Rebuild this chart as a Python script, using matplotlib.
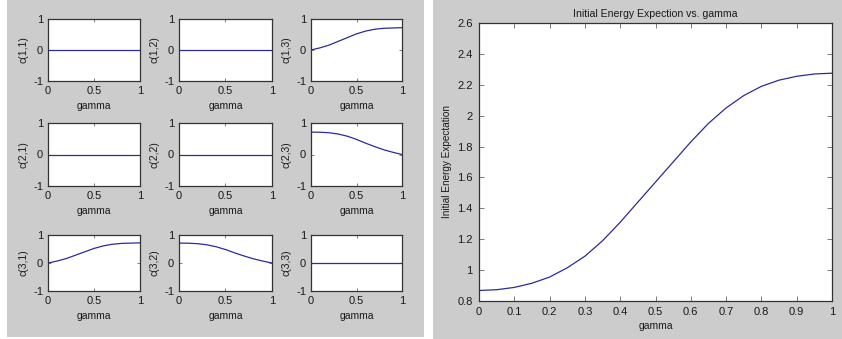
import matplotlib
matplotlib.use("Agg")
import matplotlib.pyplot as plt
from matplotlib.patches import Rectangle

plt.rcParams['font.family'] = ['Liberation Sans', 'DejaVu Sans']
plt.rcParams['font.size'] = 8
plt.rcParams['axes.unicode_minus'] = False

# coefficients vs gamma
gamma = [0.0, 0.1, 0.2, 0.3, 0.4, 0.5, 0.6, 0.7, 0.8, 0.9, 1.0]
c_zero = [0.0] * 11
c_rise = [0.0, 0.07, 0.16, 0.28, 0.40, 0.52, 0.61, 0.67, 0.70, 0.71, 0.72]
c_fall = [0.71, 0.707, 0.69, 0.65, 0.58, 0.48, 0.36, 0.25, 0.15, 0.07, 0.0]

coef = {(1, 1): c_zero, (1, 2): c_zero, (1, 3): c_rise,
        (2, 1): c_zero, (2, 2): c_zero, (2, 3): c_fall,
        (3, 1): c_rise, (3, 2): c_fall, (3, 3): c_zero}

# initial energy expectation vs gamma
gamma_e = [0.0, 0.05, 0.1, 0.15, 0.2, 0.25, 0.3, 0.35, 0.4, 0.45, 0.5,
           0.55, 0.6, 0.65, 0.7, 0.75, 0.8, 0.85, 0.9, 0.95, 1.0]
energy = [0.868, 0.873, 0.888, 0.915, 0.955, 1.015, 1.09, 1.19, 1.31, 1.44, 1.57,
          1.70, 1.83, 1.95, 2.05, 2.13, 2.19, 2.23, 2.255, 2.27, 2.275]

W, H = 842, 339
GREY = '#cccccc'
LINE = '#2b2b9e'
TXT = '#1a1a1a'

fig = plt.figure(figsize=(W / 100, H / 100), dpi=100, facecolor='white')

# the two grey "figure windows"
fig.patches.append(Rectangle((7 / W, 2 / H), (424 - 7) / W, (339 - 2) / H,
                             transform=fig.transFigure, facecolor=GREY, edgecolor='none', zorder=-10))
fig.patches.append(Rectangle((433 / W, 0), (W - 433) / W, 1,
                             transform=fig.transFigure, facecolor=GREY, edgecolor='none', zorder=-10))


def px_axes(x0, y0, x1, y1):
    return fig.add_axes([x0 / W, 1 - y1 / H, (x1 - x0) / W, (y1 - y0) / H])


def style(ax, ticklen, pad):
    ax.set_facecolor('white')
    for s in ax.spines.values():
        s.set_color('#333333')
        s.set_linewidth(0.9)
    ax.tick_params(direction='in', length=ticklen, width=0.6, top=True, right=True,
                   labelsize=8, pad=pad, color='#666666', labelcolor=TXT)


cols = [(48, 140), (179, 272), (311, 402)]
rows = [(19, 81), (123, 186), (235, 291)]

for i, (y0, y1) in enumerate(rows):
    for j, (x0, x1) in enumerate(cols):
        ax = px_axes(x0, y0, x1, y1)
        ax.plot(gamma, coef[(i + 1, j + 1)], color=LINE, lw=0.9)
        ax.set_xlim(0, 1)
        ax.set_ylim(-1, 1)
        ax.set_xticks([0, 0.5, 1])
        ax.set_xticklabels(['0', '0.5', '1'])
        ax.set_yticks([-1, 0, 1])
        ax.set_yticklabels(['-1', '0', '1'])
        style(ax, 2.5, 3.5)
        ax.set_xlabel('gamma', color=TXT, fontsize=7.5, labelpad=4)
        ax.set_ylabel('c(%d,%d)' % (i + 1, j + 1), color=TXT, fontsize=7.5, labelpad=3)

ax = px_axes(479, 23, 832, 301)
ax.plot(gamma_e, energy, color=LINE, lw=0.9)
ax.set_xlim(0, 1)
ax.set_ylim(0.8, 2.6)
xt = [0, 0.1, 0.2, 0.3, 0.4, 0.5, 0.6, 0.7, 0.8, 0.9, 1]
ax.set_xticks(xt)
ax.set_xticklabels(['0', '0.1', '0.2', '0.3', '0.4', '0.5', '0.6', '0.7', '0.8', '0.9', '1'])
yt = [0.8, 1.0, 1.2, 1.4, 1.6, 1.8, 2.0, 2.2, 2.4, 2.6]
ax.set_yticks(yt)
ax.set_yticklabels(['0.8', '1', '1.2', '1.4', '1.6', '1.8', '2', '2.2', '2.4', '2.6'])
style(ax, 3.5, 4.5)
ax.set_xlabel('gamma', color=TXT, fontsize=7.5, labelpad=3)
ax.set_ylabel('Initial Energy Expectation', color=TXT, fontsize=7.2, labelpad=4)
ax.set_title('Initial Energy Expection vs. gamma', color=TXT, fontsize=7.6, pad=4)

fig.savefig('out.png', dpi=100, facecolor='white')
